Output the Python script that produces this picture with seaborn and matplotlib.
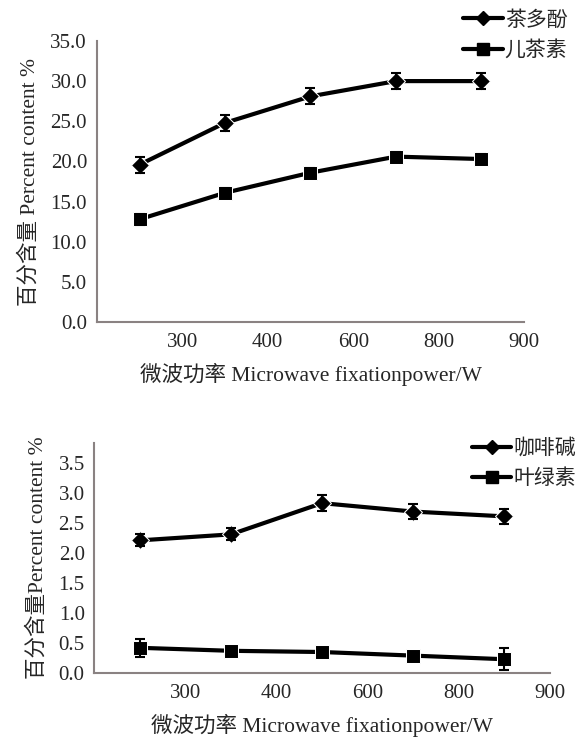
import numpy as np
import pandas as pd
import matplotlib
matplotlib.use("Agg")
import matplotlib.pyplot as plt
import seaborn as sns
from matplotlib.lines import Line2D

sns.set_theme(style="white")
plt.rcParams['font.family'] = ['Liberation Serif', 'Noto Sans CJK SC']

# ---- datos ----
posiciones = [0, 1, 2, 3, 4]
etiquetas_x = ['300', '400', '600', '800', '900']

te_polifenol = [19.6, 24.8, 28.1, 30.0, 30.0]
te_polifenol_err = [1.0, 1.0, 1.0, 1.0, 1.0]
catequina = [12.8, 16.1, 18.6, 20.6, 20.3]
catequina_err = [0.7, 0.6, 0.6, 0.6, 0.6]

cafeina = [2.21, 2.31, 2.83, 2.69, 2.61]
cafeina_err = [0.10, 0.10, 0.13, 0.12, 0.12]
clorofila = [0.42, 0.37, 0.35, 0.29, 0.23]
clorofila_err = [0.15, 0.05, 0.05, 0.05, 0.18]

GRIS = '#8a8282'


def panel(ax, series, ylim, yticks, ylabel, leg_pos):
    filas = []
    for nombre, vals, errs, marca, ms in series:
        for p, v in zip(posiciones, vals):
            filas.append({'pos': p, 'valor': v, 'serie': nombre})
    df = pd.DataFrame(filas)
    marcas = {s[0]: s[3] for s in series}
    sns.lineplot(data=df, x='pos', y='valor', hue='serie', style='serie',
                 palette=['black'] * len(series), markers=marcas, dashes=False,
                 linewidth=3, markersize=10, ax=ax, legend=False)
    for nombre, vals, errs, marca, ms in series:
        ax.errorbar(posiciones, vals, yerr=errs, fmt='none', ecolor='black',
                    elinewidth=1.5, capsize=3.5, capthick=1.5)
    # ajustar tamaño de marcadores
    for ln, s in zip(ax.lines[:len(series)], series):
        ln.set_markersize(s[4])

    ax.set_xlim(-0.5, 4.5)
    ax.set_xticks([0.5, 1.5, 2.5, 3.5, 4.5])
    ax.set_xticklabels(etiquetas_x)
    ax.set_ylim(*ylim)
    ax.set_yticks(yticks)
    ax.set_yticklabels([f'{t:.1f}' for t in yticks])
    ax.tick_params(axis='both', direction='in', length=5, width=1.5, color=GRIS,
                   labelsize=15, pad=7)
    ax.tick_params(axis='x', pad=8)
    for lado in ['top', 'right']:
        ax.spines[lado].set_visible(False)
    for lado in ['left', 'bottom']:
        ax.spines[lado].set_color(GRIS)
        ax.spines[lado].set_linewidth(1.5)
    ax.set_xlabel('微波功率 Microwave fixationpower/W', fontsize=15.5, labelpad=8)
    ax.set_ylabel(ylabel, fontsize=15.5, labelpad=8)

    handles = [Line2D([], [], color='black', lw=3, marker=s[3], markersize=s[4] * 0.8)
               for s in series]
    fig.legend(handles, [s[0] for s in series], loc='upper right',
               bbox_to_anchor=leg_pos, frameon=False, fontsize=15,
               handlelength=1.9, handletextpad=0.1, labelspacing=0.5,
               borderpad=0, borderaxespad=0)


fig = plt.figure(figsize=(5.76, 7.44), dpi=100)
ax1 = fig.add_axes([0.168, 0.567, 0.742, 0.378])
ax2 = fig.add_axes([0.164, 0.0954, 0.790, 0.309])

panel(ax1,
      [('茶多酚', te_polifenol, te_polifenol_err, 'D', 9.5),
       ('儿茶素', catequina, catequina_err, 's', 10)],
      (0, 35), np.arange(0, 35.1, 5), '百分含量 Percent content %',
      (0.985, 0.985))

panel(ax2,
      [('咖啡碱', cafeina, cafeina_err, 'D', 9.5),
       ('叶绿素', clorofila, clorofila_err, 's', 10)],
      (0, 3.83), np.arange(0, 3.51, 0.5), '百分含量Percent content %',
      (1.0, 0.41))

fig.savefig('out.png', dpi=100)
